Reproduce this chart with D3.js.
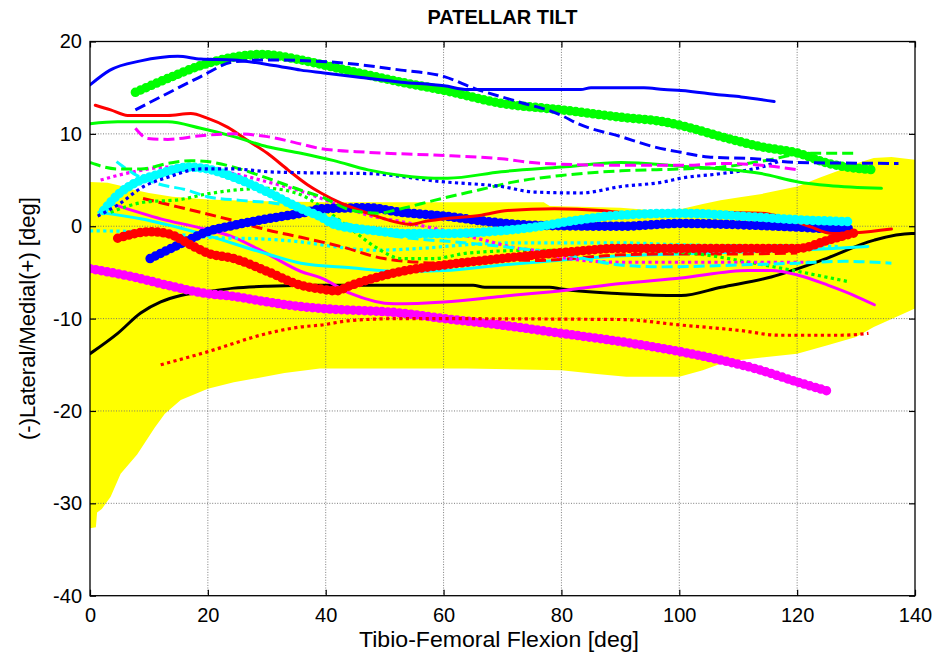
<!DOCTYPE html>
<html>
<head>
<meta charset="utf-8">
<script src="https://cdn.jsdelivr.net/npm/d3@7"></script>
<style>
  body { margin: 0; background: #fff; }
  svg { display: block; }
  text { font-family: "Liberation Sans", Arial, Helvetica, sans-serif; fill: #000; }
</style>
</head>
<body>
<svg id="chart" width="941" height="664"></svg>
<script>
// Axis ticks
const xTicks = [0, 20, 40, 60, 80, 100, 120, 140];
const yTicks = [-40, -30, -20, -10, 0, 10, 20];

// Normal corridor (upper / lower bound), [flexion, tilt]
const bandUpper = [[0,4.8],[3,4.7],[5,4.4],[7,4.0],[10,3.6],[14,3.2],[20,2.9],[30,2.7],[40,2.6],[60,2.6],[77,2.6],[78,2.2],[90,2.0],[96,1.7],[100,1.8],[104,2.4],[107,2.8],[110,3.1],[114,3.5],[120,4.3],[124,5.3],[127,6.0],[130,6.8],[133,7.4],[136,7.5],[140,7.2]];
const bandLower = [[0,-32.7],[1,-32.6],[1.2,-31.0],[2,-30.6],[3.5,-29.3],[5.2,-26.8],[8,-24.7],[11,-21.8],[12.7,-20.3],[15.4,-18.8],[20,-17.6],[24.4,-16.9],[33,-15.9],[39,-15.4],[64,-15.4],[80,-15.6],[86,-16.0],[91,-16.3],[100,-16.3],[104,-15.6],[107,-14.9],[110,-14.5],[120,-13.8],[125,-12.9],[130,-12.0],[133,-10.9],[140,-8.9]];

// Individual knees, [flexion, tilt]
const blackSolid = [[0,-13.8],[4.7,-11.6],[8.6,-9.4],[12,-8.2],[15.4,-7.5],[19.9,-7.1],[24.4,-6.7],[30.1,-6.5],[39.2,-6.4],[65,-6.4],[67,-6.6],[78,-6.6],[80,-6.8],[90.1,-7.3],[100.3,-7.5],[107.1,-6.6],[115.6,-5.5],[124.1,-3.7],[133.1,-1.5],[139.4,-0.8],[140,-0.8]];
const magentaThick = [[0,-4.6],[7.4,-5.5],[13.2,-6.4],[19.9,-7.3],[24.4,-7.6],[30.1,-8.2],[35.8,-8.7],[39.2,-8.9],[52.8,-9.4],[60.1,-10.0],[69.8,-10.7],[80,-11.6],[90.1,-12.5],[100.3,-13.6],[107.1,-14.5],[112.8,-15.4],[120.2,-16.9],[125.5,-17.9]];
const redDotted = [[12,-15.0],[19.9,-13.6],[30.1,-11.6],[35.8,-10.9],[39.2,-10.7],[44.3,-10.2],[52.8,-10.0],[90.1,-10.1],[100.3,-10.7],[110.5,-11.3],[116.8,-11.8],[127.5,-11.8],[132.1,-11.6]];
const magentaSolid = [[4.7,2.2],[12,0.8],[18.8,-0.2],[24.4,-1.2],[30.1,-3.0],[35.8,-4.9],[39.2,-5.6],[44.3,-7.3],[51.6,-8.4],[60.1,-8.2],[69.8,-7.6],[81.1,-6.9],[90.1,-6.2],[100.3,-5.6],[111.7,-4.8],[115.6,-4.8],[120.2,-5.3],[125.3,-6.4],[129.7,-7.5],[133.1,-8.5]];
const cyanSolid = [[1.5,1.5],[8.6,0.8],[18.8,-0.8],[30.1,-3.0],[35.8,-4.0],[44.3,-4.5],[52.8,-4.9],[60.1,-4.8],[69.8,-4.2],[81.1,-3.6],[90.1,-3.2],[100,-3.0],[110,-2.8],[120,-2.6],[126,-2.4],[132,-2.2]];
const cyanDotted = [[0,-0.5],[10,-0.6],[19.9,-1.2],[30,-1.4],[35.8,-1.7],[41.4,-2.2],[48,-2.6],[56,-2.4],[64,-2.0],[72,-1.8],[90,-1.8],[100,-2.0],[110,-2.1],[120,-2.1],[127,-2.2]];
const redDashed = [[9,3.0],[14.9,2.1],[18.8,1.5],[24.4,0.6],[30.1,-0.4],[35.8,-1.2],[42.6,-2.2],[49.9,-3.5],[60.1,-4.0],[66.9,-3.5],[75.4,-3.7],[90.1,-3.1],[100,-3.0],[110,-3.0],[120,-2.9]];
const greenDotted = [[3.5,1.5],[9.1,2.6],[15.4,2.9],[19.9,3.5],[24.4,3.9],[30.1,4.1],[35.8,3.4],[39.2,2.1],[44.3,-0.3],[48.8,-2.4],[52.8,-3.5],[58.4,-3.5],[64.1,-2.9],[75.4,-2.6],[90.1,-2.6],[101.5,-2.9],[112.7,-4.0],[120.2,-4.9],[128.7,-6.0]];
const magentaDotted = [[1.8,5.0],[7.4,5.9],[13.2,6.4],[18.8,6.2],[24.4,5.7],[30.1,4.8],[35.8,3.8],[41.4,2.5],[47.2,1.2],[54.5,0.3],[59.6,-0.4],[66.9,-1.5],[72.6,-2.4],[75.4,-2.6],[81.1,-3.5],[90.1,-3.9],[105,-3.9],[122.4,-3.9]];
const cyanDashed = [[4.5,7.0],[7.4,5.7],[11.5,4.6],[16.6,3.9],[19.9,3.2],[25.5,2.8],[31.2,2.5],[39.2,1.4],[44,0.2],[50,-0.9],[56,-1.4],[62,-1.7],[70,-2.2],[80,-3.0],[90,-4.2],[97,-4.4],[110,-4.2],[120,-4.0],[128,-3.8],[136,-4.0]];
const blueThick = [[10.2,-3.5],[15.4,-1.9],[19.9,-0.6],[24.4,0.1],[30.1,0.8],[35.8,1.4],[39.7,1.9],[47.2,2.0],[52.8,1.5],[60.1,1.1],[67.5,0.5],[75.4,0.1],[90.1,0.0],[100.3,0.3],[112.8,0.1],[120.2,-0.1],[125.3,-0.25],[129.2,-0.25]];
const redThick = [[4.7,-1.3],[10.2,-0.6],[13.2,-0.8],[17.6,-2.2],[19.9,-2.9],[24.4,-3.5],[30.1,-4.9],[35.8,-6.4],[39.2,-6.8],[41.7,-7.0],[44.3,-6.4],[52.8,-4.9],[60.1,-4.2],[69.8,-3.5],[81.1,-2.8],[90.1,-2.4],[107.1,-2.4],[120.2,-2.4],[125.3,-1.5],[130.4,-0.6]];
const redSolid = [[0.9,13.1],[3.5,12.6],[6.4,12.0],[13.2,12.0],[17.1,12.2],[19.9,11.7],[23.4,10.7],[26.7,9.3],[30.1,7.9],[33.6,6.1],[36.9,4.5],[39.2,3.6],[42.6,2.5],[47.2,1.4],[51.6,0.5],[54.5,0.2],[56.7,0.5],[60.1,0.8],[66.4,1.2],[70.9,1.7],[78.8,1.9],[86.7,1.7],[90.1,1.5],[100.3,1.4],[107.1,1.5],[113.9,1.4],[117.3,1.0],[122,0.0],[126,-0.8],[130,-0.7],[136,-0.3]];
const cyanThick = [[2.3,1.7],[4.7,3.4],[7.4,4.6],[12,5.7],[16.6,6.4],[19.9,6.2],[24.4,5.3],[30.1,3.7],[35.8,1.9],[39.2,1.0],[41.4,0.2],[47.2,-0.4],[54.5,-0.8],[60.1,-0.8],[67.5,-0.6],[75.4,-0.1],[81.1,0.5],[90.1,1.2],[100.3,1.4],[112.8,1.0],[120.2,0.7],[128.7,0.5]];
const greenDashed = [[0,6.9],[4.7,6.2],[8.6,6.2],[13.2,6.8],[17.1,7.1],[19.9,7.0],[24.4,6.4],[30.1,5.2],[35.8,3.9],[39.2,3.2],[44,1.8],[48.8,1.4],[52.8,1.9],[58.4,2.8],[65.8,3.9],[72,4.8],[80,5.5],[90.1,6.0],[100.3,6.2],[107.1,6.4],[114.5,7.1],[121.9,7.9],[129.7,7.9]];
const blueDotted = [[1.3,1.1],[4.7,2.3],[9.1,4.3],[13.2,5.3],[18.8,6.2],[24.4,6.2],[30.1,5.9],[35.8,5.8],[47.2,5.7],[60.1,4.8],[69.8,4.3],[75.4,3.7],[83.3,3.6],[90.1,4.3],[97.4,4.8],[100.3,5.2],[107.1,5.7],[113.9,6.4],[116.8,7.0]];
const greenSolid = [[0,11.1],[4.7,11.3],[13.2,11.3],[18.8,10.6],[24.4,9.7],[30.1,8.6],[35.8,7.9],[41.4,7.1],[47.2,6.1],[52.8,5.5],[58.4,5.2],[60.7,5.2],[69.8,5.9],[80,6.4],[90.1,6.9],[100.3,6.5],[107.1,6.2],[113.9,5.7],[120.2,4.8],[125.3,4.4],[134.3,4.1]];
const magentaDashed = [[7.7,10.6],[9.8,9.5],[13.2,9.4],[18.8,9.8],[24.4,10.0],[30.1,9.7],[35.8,8.9],[39.2,8.4],[47.2,8.0],[58.4,7.7],[69.8,7.3],[76.6,6.8],[90.1,6.6],[101.5,6.6],[107.1,6.8],[113.9,6.6],[120.2,6.1]];
const greenThick = [[7.7,14.5],[13.2,16.0],[18.8,17.4],[24.4,18.3],[29,18.6],[35.8,18.0],[41.4,17.2],[52.8,15.6],[60.1,14.7],[69.8,13.3],[80,12.6],[90.1,11.8],[97.4,11.3],[100.3,10.9],[107.1,9.7],[113.9,8.6],[120.2,7.9],[125.3,6.8],[133.1,6.1]];
const blueSolid = [[0,15.3],[3.4,16.9],[8.6,17.9],[14.9,18.4],[18.8,18.1],[24.4,18.0],[31.2,17.4],[35.8,16.9],[39.7,16.6],[46,16.1],[52.8,15.6],[60.1,15.2],[64.1,14.8],[83.3,14.8],[85,15.0],[94,15.0],[97.4,14.8],[100.3,14.7],[107.1,14.2],[110.5,14.0],[116.1,13.5]];
const blueDashed = [[7.7,12.6],[13.2,14.4],[18.8,16.2],[24.4,17.8],[30,18.0],[40.4,17.8],[52.8,16.9],[60.1,16.2],[65.3,14.9],[72,13.6],[80,12.0],[82.8,11.1],[90.1,9.7],[95.7,8.6],[100.3,8.0],[104.9,7.5],[112.7,7.3],[120.2,6.9],[137.2,6.8]];

// Line styles
const STYLE = {
  solid:  { width: 3,   dash: null,      cap: "round" },
  dashed: { width: 3,   dash: "11 5",    cap: "butt"  },
  dotted: { width: 3.2, dash: "3.2 3.4", cap: "butt"  },
  marker: { width: 9.5, dash: "0 5.8",   cap: "round" }
};

// Drawing order (later on top)
const traces = [
  { data: blackSolid,    color: "#000000", style: "solid"  },
  { data: magentaThick,  color: "#ff00ff", style: "marker" },
  { data: redDotted,     color: "#ff0000", style: "dotted" },
  { data: magentaSolid,  color: "#ff00ff", style: "solid"  },
  { data: cyanSolid,     color: "#00ffff", style: "solid"  },
  { data: cyanDotted,    color: "#00ffff", style: "dotted" },
  { data: redDashed,     color: "#ff0000", style: "dashed" },
  { data: greenDotted,   color: "#00ff00", style: "dotted" },
  { data: magentaDotted, color: "#ff00ff", style: "dotted" },
  { data: cyanDashed,    color: "#00ffff", style: "dashed" },
  { data: blueThick,     color: "#0000ff", style: "marker" },
  { data: redThick,      color: "#ff0000", style: "marker" },
  { data: redSolid,      color: "#ff0000", style: "solid"  },
  { data: cyanThick,     color: "#00ffff", style: "marker" },
  { data: greenDashed,   color: "#00ff00", style: "dashed" },
  { data: blueDotted,    color: "#0000ff", style: "dotted" },
  { data: greenSolid,    color: "#00ff00", style: "solid"  },
  { data: magentaDashed, color: "#ff00ff", style: "dashed" },
  { data: greenThick,    color: "#00ff00", style: "marker" },
  { data: blueSolid,     color: "#0000ff", style: "solid"  },
  { data: blueDashed,    color: "#0000ff", style: "dashed" }
];

const pLeft = 90, pRight = 915, pTop = 41.5, pBottom = 595.7;

const svg = d3.select("#chart");
const x = d3.scaleLinear().domain([0, 140]).range([pLeft, pRight]);
const y = d3.scaleLinear().domain([-40, 20]).range([pBottom, pTop]);

svg.append("defs").append("clipPath").attr("id", "plotClip")
  .append("rect").attr("x", pLeft).attr("y", pTop)
  .attr("width", pRight - pLeft).attr("height", pBottom - pTop);

const plot = svg.append("g").attr("clip-path", "url(#plotClip)");

// corridor fill: upper bound forward, lower bound backward
const bandPoly = bandUpper.map(d => [x(d[0]), y(d[1])])
  .concat(bandLower.slice().reverse().map(d => [x(d[0]), y(d[1])]));
plot.append("path")
  .attr("d", "M" + bandPoly.map(p => p.join(",")).join("L") + "Z")
  .attr("fill", "#ffff00");

// grid
const grid = svg.append("g");
grid.selectAll("line.gx").data(xTicks.filter(v => v > 0 && v < 140)).join("line")
  .attr("x1", d => x(d)).attr("x2", d => x(d))
  .attr("y1", pTop).attr("y2", pBottom)
  .attr("stroke", "#6e6e6e").attr("stroke-width", 0.9).attr("stroke-dasharray", "1 1.6");
grid.selectAll("line.gy").data(yTicks.filter(v => v > -40 && v < 20)).join("line")
  .attr("x1", pLeft).attr("x2", pRight)
  .attr("y1", d => y(d)).attr("y2", d => y(d))
  .attr("stroke", "#6e6e6e").attr("stroke-width", 0.9).attr("stroke-dasharray", "1 1.6");

// traces
const line = d3.line().x(d => x(d[0])).y(d => y(d[1])).curve(d3.curveMonotoneX);
const lines = svg.append("g").attr("clip-path", "url(#plotClip)");
traces.forEach(t => {
  const s = STYLE[t.style];
  lines.append("path")
    .attr("d", line(t.data))
    .attr("fill", "none")
    .attr("stroke", t.color)
    .attr("stroke-width", s.width)
    .attr("stroke-linecap", s.cap)
    .attr("stroke-linejoin", "round")
    .attr("stroke-dasharray", s.dash);
});

// axes with inward ticks; labels use a plain hyphen for negatives
const tickLen = 6;
const fmt = d => String(d);
const axB = svg.append("g").attr("transform", `translate(0,${pBottom})`)
  .call(d3.axisBottom(x).tickValues(xTicks).tickSizeInner(-tickLen).tickSizeOuter(0).tickPadding(12).tickFormat(fmt));
const axL = svg.append("g").attr("transform", `translate(${pLeft},0)`)
  .call(d3.axisLeft(y).tickValues(yTicks).tickSizeInner(-tickLen).tickSizeOuter(0).tickPadding(8).tickFormat(fmt));
const axT = svg.append("g").attr("transform", `translate(0,${pTop})`)
  .call(d3.axisTop(x).tickValues(xTicks).tickSizeInner(-tickLen).tickSizeOuter(0).tickFormat(""));
const axR = svg.append("g").attr("transform", `translate(${pRight},0)`)
  .call(d3.axisRight(y).tickValues(yTicks).tickSizeInner(-tickLen).tickSizeOuter(0).tickFormat(""));

[axB, axL, axT, axR].forEach(g => {
  g.select(".domain").remove();
  g.selectAll(".tick line").attr("stroke", "#000").attr("stroke-width", 1.2);
  g.selectAll(".tick text").style("font-size", "20px").attr("fill", "#000");
});

svg.append("rect")
  .attr("x", pLeft).attr("y", pTop)
  .attr("width", pRight - pLeft).attr("height", pBottom - pTop)
  .attr("fill", "none").attr("stroke", "#000").attr("stroke-width", 1.3);

// title and axis labels
svg.append("text")
  .attr("x", (pLeft + pRight) / 2).attr("y", 24)
  .attr("text-anchor", "middle")
  .style("font-size", "20px").style("font-weight", "bold")
  .text("PATELLAR TILT");

svg.append("text")
  .attr("x", 499).attr("y", 647)
  .attr("text-anchor", "middle")
  .attr("textLength", 280).attr("lengthAdjust", "spacingAndGlyphs")
  .style("font-size", "22px")
  .text("Tibio-Femoral Flexion [deg]");

svg.append("text")
  .attr("transform", `translate(35,${(pTop + pBottom) / 2}) rotate(-90)`)
  .attr("text-anchor", "middle")
  .style("font-size", "22px")
  .text("(-)Lateral/Medial(+) [deg]");
</script>
</body>
</html>
